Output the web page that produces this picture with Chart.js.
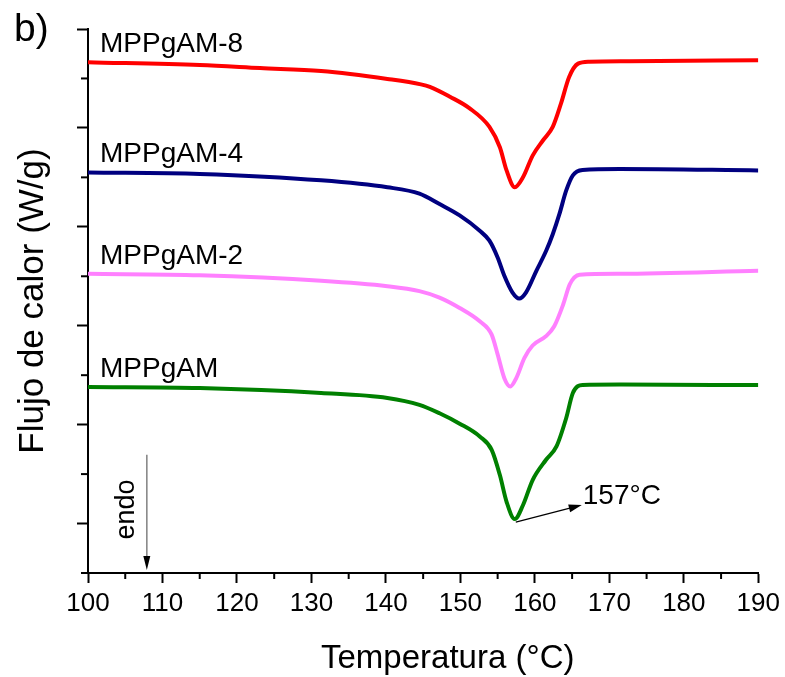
<!DOCTYPE html>
<html>
<head>
<meta charset="utf-8">
<script src="https://cdn.jsdelivr.net/npm/chart.js@4.4.1/dist/chart.umd.min.js"></script>
<style>
  html, body { margin: 0; padding: 0; background: #fff; }
</style>
</head>
<body>
<canvas id="dsc-chart" width="785" height="677"></canvas>
<script>
// DSC curves - heat flow vs temperature

const seriesNames = ['MPPgAM-8', 'MPPgAM-4', 'MPPgAM-2', 'MPPgAM'];

const redTemp = [100, 115, 123.1, 131.3, 140.2, 144.7, 145.9, 148.6, 151.2, 153.9, 155.3, 156.2, 157.3, 158.4, 159.7, 161.1, 162.4, 163.5, 164.6, 165.8, 167.3, 172.7, 190];
const redFlow = [10.33, 10.27, 10.21, 10.15, 9.99, 9.88, 9.83, 9.63, 9.40, 9.02, 8.61, 8.14, 7.80, 8.00, 8.44, 8.75, 9.02, 9.49, 10.03, 10.30, 10.34, 10.35, 10.37];

const blueTemp = [100, 115, 131.3, 140.2, 144.5, 147.2, 149.9, 152.6, 153.9, 155.0, 155.9, 157.0, 157.9, 158.8, 160.2, 161.5, 162.4, 163.3, 164.2, 165.1, 166.4, 171.4, 190];
const blueFlow = [8.10, 8.07, 7.94, 7.80, 7.67, 7.46, 7.23, 6.92, 6.72, 6.38, 6.01, 5.67, 5.55, 5.67, 6.11, 6.51, 6.85, 7.26, 7.73, 8.04, 8.15, 8.17, 8.14];

const pinkTemp = [100, 115, 131.3, 140.2, 144.5, 147.2, 149.9, 152.6, 154.2, 155.0, 155.9, 156.7, 157.5, 158.6, 159.7, 161.5, 162.6, 163.8, 164.7, 166.0, 171.4, 190];
const pinkFlow = [6.05, 6.02, 5.91, 5.80, 5.70, 5.57, 5.36, 5.09, 4.82, 4.42, 3.94, 3.77, 3.94, 4.35, 4.60, 4.79, 4.99, 5.43, 5.84, 6.03, 6.05, 6.11];

const greenTemp = [100, 115, 131.3, 140.2, 144.5, 147.2, 149.9, 152.6, 154.2, 155.3, 156.2, 157.3, 158.4, 159.7, 161.5, 162.9, 164.2, 165.1, 166.4, 171.4, 190];
const greenFlow = [3.76, 3.74, 3.64, 3.54, 3.40, 3.23, 3.02, 2.76, 2.49, 1.98, 1.44, 1.09, 1.37, 1.88, 2.29, 2.56, 3.13, 3.64, 3.80, 3.81, 3.80];

const xMajor = [100, 110, 120, 130, 140, 150, 160, 170, 180, 190];
const xMinor = [105, 115, 125, 135, 145, 155, 165, 175, 185];
const yMajor = [1, 3, 5, 7, 9, 11];
const yMinor = [0, 2, 4, 6, 8, 10];

const FONT = "'Liberation Sans', Arial, sans-serif";

function toPoints(temps, flows) {
  return temps.map((t, i) => ({ x: t, y: flows[i] }));
}

function makeSet(label, temps, flows, color) {
  return {
    label: label,
    data: toPoints(temps, flows),
    borderColor: color,
    borderWidth: 4,
    pointRadius: 0,
    fill: false,
    cubicInterpolationMode: 'monotone'
  };
}

// extra drawing: minor ticks, labels, arrows, x title
const decorations = {
  id: 'decorations',
  afterDraw(chart) {
    const { ctx, scales: { x, y } } = chart;
    ctx.save();
    ctx.strokeStyle = '#000';
    ctx.lineWidth = 2;

    xMinor.forEach(v => {
      const px = x.getPixelForValue(v);
      ctx.beginPath();
      ctx.moveTo(px, y.bottom);
      ctx.lineTo(px, y.bottom + 6);
      ctx.stroke();
    });
    yMinor.forEach(v => {
      const py = y.getPixelForValue(v);
      ctx.beginPath();
      ctx.moveTo(x.left, py);
      ctx.lineTo(x.left - 7, py);
      ctx.stroke();
    });

    // series names above the start of each curve
    ctx.fillStyle = '#000';
    ctx.font = '28px ' + FONT;
    ctx.textBaseline = 'alphabetic';
    ctx.textAlign = 'left';
    chart.data.datasets.forEach((ds, i) => {
      const py = y.getPixelForValue(ds.data[0].y);
      ctx.fillText(seriesNames[i], x.left + 12, py - 10);
    });

    // peak annotation
    const sx = x.getPixelForValue(greenTemp[11]) + 1;
    const sy = y.getPixelForValue(greenFlow[11]) + 3;
    const ex = sx + 66, ey = sy - 17;
    ctx.lineWidth = 1.2;
    ctx.beginPath();
    ctx.moveTo(sx, sy);
    ctx.lineTo(ex - 10, ey + 2.6);
    ctx.stroke();
    const ang = Math.atan2(ey - sy, ex - sx);
    ctx.beginPath();
    ctx.moveTo(ex, ey);
    ctx.lineTo(ex - 13 * Math.cos(ang) + 4 * Math.sin(ang), ey - 13 * Math.sin(ang) - 4 * Math.cos(ang));
    ctx.lineTo(ex - 13 * Math.cos(ang) - 4 * Math.sin(ang), ey - 13 * Math.sin(ang) + 4 * Math.cos(ang));
    ctx.closePath();
    ctx.fill();
    ctx.font = '28px ' + FONT;
    ctx.fillText('157°C', ex + 1, ey - 1);

    // endo arrow
    const ax = x.getPixelForValue(107.9);
    const ay1 = y.getPixelForValue(2.39);
    const ay2 = y.getPixelForValue(0.06);
    ctx.strokeStyle = '#808080';
    ctx.lineWidth = 1.5;
    ctx.beginPath();
    ctx.moveTo(ax, ay1);
    ctx.lineTo(ax, ay2 - 12);
    ctx.stroke();
    ctx.fillStyle = '#000';
    ctx.beginPath();
    ctx.moveTo(ax, ay2);
    ctx.lineTo(ax - 3.5, ay2 - 14);
    ctx.lineTo(ax + 3.5, ay2 - 14);
    ctx.closePath();
    ctx.fill();

    ctx.save();
    ctx.translate(ax - 20, (ay1 + ay2) / 2 - 3);
    ctx.rotate(-Math.PI / 2);
    ctx.textAlign = 'center';
    ctx.textBaseline = 'middle';
    ctx.font = '27px ' + FONT;
    ctx.fillText('endo', 0, 0);
    ctx.restore();

    // x axis title (sits right of the plot centre in the original)
    ctx.textAlign = 'center';
    ctx.textBaseline = 'alphabetic';
    ctx.font = '33px ' + FONT;
    ctx.fillText('Temperatura (°C)', x.getPixelForValue(148.3), y.bottom + 95);

    // panel letter
    ctx.textAlign = 'left';
    ctx.font = '39px ' + FONT;
    ctx.fillText('b)', 14, 41);

    ctx.restore();
  }
};

const ctx = document.getElementById('dsc-chart').getContext('2d');

new Chart(ctx, {
  type: 'line',
  data: {
    datasets: [
      makeSet(seriesNames[0], redTemp, redFlow, '#ff0000'),
      makeSet(seriesNames[1], blueTemp, blueFlow, '#000080'),
      makeSet(seriesNames[2], pinkTemp, pinkFlow, '#ff80ff'),
      makeSet(seriesNames[3], greenTemp, greenFlow, '#008000')
    ]
  },
  options: {
    responsive: false,
    animation: false,
    layout: {
      padding: { left: 0, right: 26, top: 29, bottom: 52.8 }
    },
    plugins: {
      legend: { display: false },
      tooltip: { enabled: false }
    },
    scales: {
      x: {
        type: 'linear',
        min: 100,
        max: 190,
        afterBuildTicks: s => { s.ticks = xMajor.map(v => ({ value: v })); },
        grid: {
          drawOnChartArea: false,
          drawTicks: true,
          tickLength: 10,
          tickWidth: 2,
          tickColor: '#000'
        },
        border: { display: true, color: '#000', width: 2 },
        ticks: {
          color: '#000',
          padding: 5,
          maxRotation: 0,
          autoSkip: false,
          font: { family: FONT, size: 26 }
        },
        title: { display: false }
      },
      y: {
        type: 'linear',
        min: 0,
        max: 11,
        afterBuildTicks: s => { s.ticks = yMajor.map(v => ({ value: v })); },
        grid: {
          drawOnChartArea: false,
          drawTicks: true,
          tickLength: 11,
          tickWidth: 2,
          tickColor: '#000'
        },
        border: { display: true, color: '#000', width: 2 },
        ticks: { display: false },
        title: {
          display: true,
          text: 'Flujo de calor (W/g)',
          color: '#000',
          font: { family: FONT, size: 35 },
          padding: { top: 12, bottom: 23 }
        }
      }
    }
  },
  plugins: [decorations]
});
</script>
</body>
</html>
